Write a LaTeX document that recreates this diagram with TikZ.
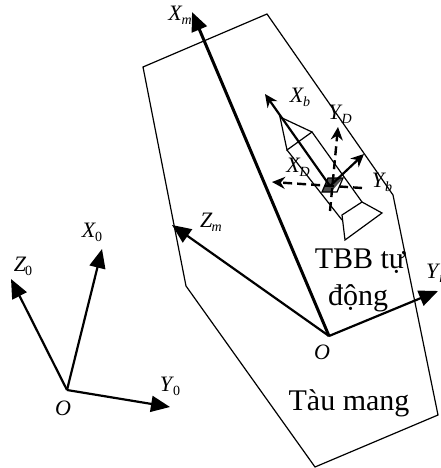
\documentclass[tikz,border=0pt]{standalone}
\usepackage{fontspec}
\setmainfont{Liberation Serif}
\usetikzlibrary{arrows.meta}
\newcommand{\sublab}[2]{\textit{#1}\kern-1pt\raisebox{-4pt}{\fontsize{14}{14}\selectfont #2}}
\tikzset{
  outline/.style={draw=black,line width=1.2pt,line join=miter},
  axis/.style={draw=black,line width=2.2pt,-{Triangle[length=19pt,width=16pt]}},
  thinaxis/.style={draw=black,line width=2.2pt,-{Stealth[length=13pt,width=12pt]}},
  dashaxis/.style={draw=black,line width=2.4pt,dash pattern=on 9pt off 5pt,-{Stealth[length=13pt,width=12pt]}},
  lab/.style={inner sep=0pt,font=\fontsize{22}{22}\selectfont},
  body/.style={inner sep=0pt,anchor=base,font=\fontsize{30}{32}\selectfont},
}
\begin{document}
\begin{tikzpicture}[x=1pt,y=-1pt]
\useasboundingbox (0,0) rectangle (441,468);
% carrier hull
\draw[outline] (143,67) -- (267,14) -- (393,195) -- (438,415) -- (315,467) -- (186,286) -- cycle;
% rocket
\draw[outline] (287,150) -- (280,117) -- (312,132) -- cycle;
\draw[outline] (287,150) -- (342,220) (312,132) -- (362,202);
\draw[outline] (342,215) -- (362,202) -- (382,213) -- (345,240) -- cycle;
\fill[black!70] (322,192) -- (328,178) -- (343,178) -- (331,192) -- cycle;
\draw[line width=1.2pt] (322,192) -- (328,178) -- (343,178) -- (337,192) -- cycle;
% coordinates
\coordinate (Om) at (329,336);
\coordinate (Xmt) at (192,12);
\coordinate (Zmt) at (172,225);
\coordinate (Ymt) at (438,291);
\coordinate (O0) at (67,390);
\coordinate (X0t) at (102,249);
\coordinate (Z0t) at (11,279);
\coordinate (Y0t) at (170,407);
\coordinate (Cb) at (330,186);
\coordinate (Xbt) at (265,94);
\coordinate (Ybt) at (364,154);
\coordinate (Cd) at (362,188);
\coordinate (XDt) at (272,182);
\coordinate (Cy) at (330,211);
\coordinate (YDt) at (338,127);
% axes
\draw[axis,line width=3pt] (Om) -- (Xmt);
\draw[axis] (Om) -- (Zmt);
\draw[axis] (Om) -- (Ymt);
\draw[axis] (O0) -- (X0t);
\draw[axis] (O0) -- (Z0t);
\draw[axis] (O0) -- (Y0t);
\draw[thinaxis] (Cb) -- (Xbt);
\draw[thinaxis] (Cb) -- (Ybt);
\draw[dashaxis] (Cd) -- (XDt);
\draw[dashaxis] (Cy) -- (YDt);
% labels
\node[lab] (lXm) at (180,15) {\sublab{X}{\textit{m}}};
\node[lab] (lZm) at (211,222) {\sublab{Z}{\textit{m}}};
\node[lab,anchor=west] (lYm) at (426,273) {\sublab{Y}{\textit{m}}};
\node[lab] (lOm) at (322,352) {\textit{O}};
\node[lab] (lXb) at (300,97) {\sublab{X}{\textit{b}}};
\node[lab] (lYD) at (340,114) {\sublab{Y}{\textit{D}}};
\node[lab] (lXD) at (298,167) {\sublab{X}{\textit{D}}};
\node[lab] (lYb) at (382,182) {\sublab{Y}{\textit{b}}};
\node[lab] (lX0) at (92,232) {\sublab{X}{0}};
\node[lab] (lZ0) at (23,266) {\sublab{Z}{0}};
\node[lab] (lY0) at (170,386) {\sublab{Y}{0}};
\node[lab] (lO0) at (63,408) {\textit{O}};
\node[body] (tbb) at (360,268) {TBB tự};
\node[body] (dong) at (358,305) {động};
\node[body] (tau) at (349,410) {Tàu mang};
\end{tikzpicture}
\end{document}
